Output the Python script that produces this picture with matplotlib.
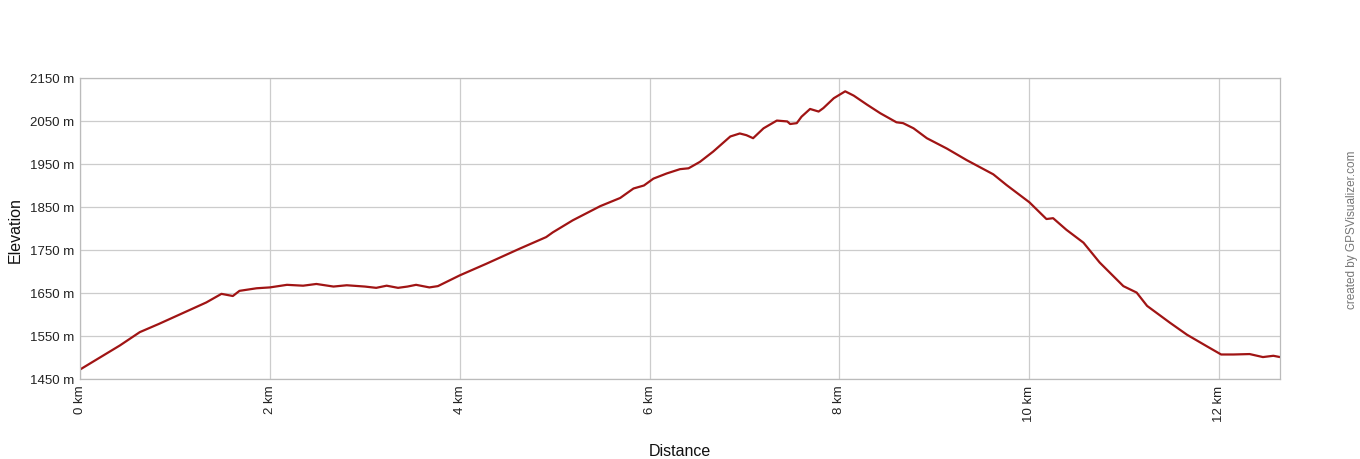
import matplotlib
matplotlib.use("Agg")
import matplotlib.pyplot as plt

plt.rcParams['font.family'] = ['Liberation Sans', 'DejaVu Sans']

distance_km = [0.0, 0.21, 0.42, 0.63, 0.83, 1.02, 1.33, 1.49, 1.61, 1.68, 1.86, 2.0, 2.18, 2.35,
               2.49, 2.67, 2.81, 3.0, 3.12, 3.23, 3.35, 3.45, 3.54, 3.68, 3.77, 4.0, 4.28, 4.63,
               4.91, 4.98, 5.19, 5.48, 5.69, 5.83, 5.94, 6.04, 6.18, 6.32, 6.41, 6.53, 6.67, 6.85,
               6.95, 7.02, 7.09, 7.20, 7.34, 7.45, 7.48, 7.55, 7.60, 7.69, 7.78, 7.83, 7.94, 8.06,
               8.15, 8.29, 8.43, 8.60, 8.67, 8.78, 8.92, 9.13, 9.34, 9.62, 9.76, 10.0, 10.18,
               10.25, 10.39, 10.57, 10.74, 10.99, 11.13, 11.24, 11.48, 11.66, 11.87, 12.02,
               12.15, 12.32, 12.46, 12.57, 12.64]
elevation_m = [1472, 1500, 1528, 1559, 1578, 1597, 1628, 1648, 1643, 1655, 1661, 1663, 1669, 1667,
               1671, 1665, 1668, 1665, 1662, 1667, 1662, 1665, 1669, 1663, 1666, 1691, 1718, 1753,
               1780, 1791, 1819, 1852, 1871, 1893, 1900, 1916, 1928, 1938, 1940, 1955, 1979, 2014,
               2021, 2017, 2010, 2033, 2051, 2049, 2043, 2045, 2060, 2078, 2072, 2080, 2103, 2119,
               2109, 2088, 2068, 2047, 2045, 2033, 2010, 1986, 1959, 1926, 1901, 1861, 1822,
               1824, 1797, 1767, 1721, 1666, 1651, 1620, 1581, 1553, 1526, 1507,
               1507, 1508, 1501, 1504, 1501]

x_ticks = [0, 2, 4, 6, 8, 10, 12]
x_tick_labels = ["0 km", "2 km", "4 km", "6 km", "8 km", "10 km", "12 km"]
y_ticks = [1450, 1550, 1650, 1750, 1850, 1950, 2050, 2150]
y_tick_labels = ["1450 m", "1550 m", "1650 m", "1750 m", "1850 m", "1950 m", "2050 m", "2150 m"]

fig = plt.figure(figsize=(13.6, 4.6), dpi=100)
ax = fig.add_axes([80/1360, 80/460, 1200/1360, 301/460])

ax.plot(distance_km, elevation_m, color='#a01414', linewidth=1.6, solid_joinstyle='round')
ax.set_xlim(0, 12.64)
ax.set_ylim(1450, 2150)
ax.set_xticks(x_ticks)
ax.set_xticklabels(x_tick_labels, rotation=90, fontsize=9.5, color='#222222')
ax.set_yticks(y_ticks)
ax.set_yticklabels(y_tick_labels, fontsize=9.5, color='#222222')
ax.tick_params(length=0, pad=4)
ax.grid(True, color='#cccccc', linewidth=0.9)
ax.set_axisbelow(True)
for s in ax.spines.values():
    s.set_color('#bbbbbb')
    s.set_linewidth(0.9)

fig.text(15/1360, 1 - 230/460, "Elevation", rotation=90, ha='center', va='center', fontsize=11.5, color='#111111')
fig.text(680/1360, 1 - 452/460, "Distance", ha='center', va='center', fontsize=11.5, color='#111111')
fig.text(1352/1360, 1 - 230/460, "created by GPSVisualizer.com", rotation=90, ha='center', va='center',
         fontsize=8.5, color='#777777')

fig.savefig("out.png", dpi=100)
